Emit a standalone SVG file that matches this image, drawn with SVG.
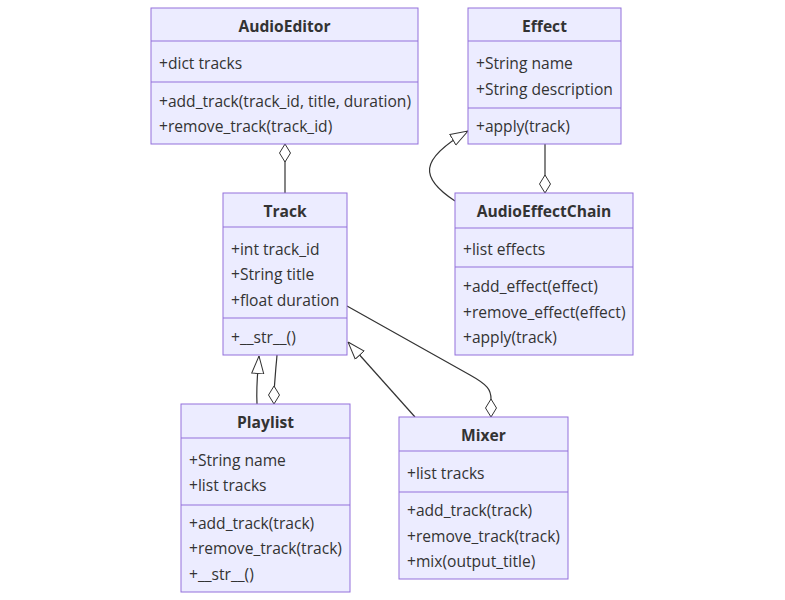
<svg xmlns="http://www.w3.org/2000/svg" width="785" height="600" viewBox="0 0 785 600">
<style>
.box{fill:#ECECFF;stroke:#9370DB;stroke-width:1}
.div{stroke:#9370DB;stroke-width:1}
.t{font-family:"Open Sans","Noto Sans",sans-serif;font-size:15.6px;fill:#333}
.h{font-weight:bold;text-anchor:middle}
.edge{fill:none;stroke:#333;stroke-width:1.2}
.agg{marker-end:url(#agg)}
.ext{marker-end:url(#ext)}
</style>
<defs>
<marker id="agg" viewBox="0 0 18 14" refX="18" refY="7" markerWidth="18" markerHeight="14" markerUnits="userSpaceOnUse" orient="auto">
<path d="M0,7 L9,1.5 L18,7 L9,12.5 Z" fill="#fff" stroke="#333" stroke-width="1"/>
</marker>
<marker id="ext" viewBox="0 0 18 14" refX="18" refY="7" markerWidth="18" markerHeight="14" markerUnits="userSpaceOnUse" orient="auto">
<path d="M0.5,1 L18,7 L0.5,13 Z" fill="#fff" stroke="#333" stroke-width="1"/>
</marker>
</defs>
<rect width="785" height="600" fill="#fff"/>
<g id="connectors">
<path class="edge agg" d="M285,193 L285,144"/>
<path class="edge agg" d="M545,144 L545,193"/>
<path class="edge ext" d="M455,201 C420,178 418,160 468,131"/>
<path class="edge ext" d="M257,404 C256,385 258,370 259,356"/>
<path class="edge agg" d="M277,355 C276,370 274,378 274,404"/>
<path class="edge ext" d="M415,417 L348,342"/>
<path class="edge agg" d="M347,306 L470,375 C488,385 491,390 491,399 L491,417"/>
</g>
<g id="AudioEditor">
<rect class="box" x="151" y="8" width="267" height="136"/>
<line class="div" x1="151" y1="41" x2="418" y2="41"/>
<line class="div" x1="151" y1="82" x2="418" y2="82"/>
<text class="t h" x="284.5" y="32">AudioEditor</text>
<text class="t" x="159" y="69">+dict tracks</text>
<text class="t" x="159" y="107">+add_track(track_id, title, duration)</text>
<text class="t" x="159" y="132">+remove_track(track_id)</text>
</g>
<g id="Effect">
<rect class="box" x="468" y="8" width="153" height="136"/>
<line class="div" x1="468" y1="41" x2="621" y2="41"/>
<line class="div" x1="468" y1="108" x2="621" y2="108"/>
<text class="t h" x="544.5" y="32">Effect</text>
<text class="t" x="476" y="69">+String name</text>
<text class="t" x="476" y="95">+String description</text>
<text class="t" x="476" y="132">+apply(track)</text>
</g>
<g id="Track">
<rect class="box" x="223" y="193" width="124" height="162"/>
<line class="div" x1="223" y1="227" x2="347" y2="227"/>
<line class="div" x1="223" y1="318" x2="347" y2="318"/>
<text class="t h" x="285" y="217">Track</text>
<text class="t" x="231" y="255">+int track_id</text>
<text class="t" x="231" y="280">+String title</text>
<text class="t" x="231" y="306">+float duration</text>
<text class="t" x="231" y="343">+__str__()</text>
</g>
<g id="AudioEffectChain">
<rect class="box" x="455" y="193" width="178" height="162"/>
<line class="div" x1="455" y1="228" x2="633" y2="228"/>
<line class="div" x1="455" y1="267" x2="633" y2="267"/>
<text class="t h" x="544" y="217">AudioEffectChain</text>
<text class="t" x="463" y="255">+list effects</text>
<text class="t" x="463" y="292">+add_effect(effect)</text>
<text class="t" x="463" y="318">+remove_effect(effect)</text>
<text class="t" x="463" y="343">+apply(track)</text>
</g>
<g id="Playlist">
<rect class="box" x="181" y="404" width="169" height="188"/>
<line class="div" x1="181" y1="438" x2="350" y2="438"/>
<line class="div" x1="181" y1="505" x2="350" y2="505"/>
<text class="t h" x="265.5" y="428">Playlist</text>
<text class="t" x="189" y="466">+String name</text>
<text class="t" x="189" y="491">+list tracks</text>
<text class="t" x="189" y="529">+add_track(track)</text>
<text class="t" x="189" y="554">+remove_track(track)</text>
<text class="t" x="189" y="580">+__str__()</text>
</g>
<g id="Mixer">
<rect class="box" x="399" y="417" width="169" height="162"/>
<line class="div" x1="399" y1="451" x2="568" y2="451"/>
<line class="div" x1="399" y1="492" x2="568" y2="492"/>
<text class="t h" x="483.5" y="441">Mixer</text>
<text class="t" x="407" y="479">+list tracks</text>
<text class="t" x="407" y="516">+add_track(track)</text>
<text class="t" x="407" y="542">+remove_track(track)</text>
<text class="t" x="407" y="567">+mix(output_title)</text>
</g>
</svg>
